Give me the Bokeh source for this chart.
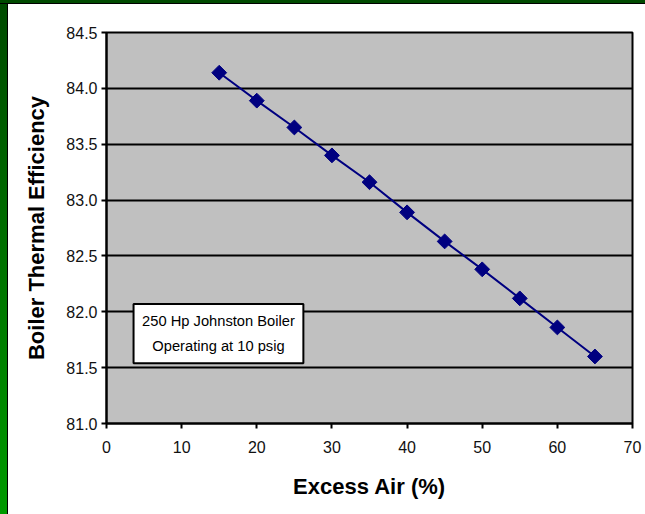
import math
from bokeh.plotting import figure
from bokeh.models import Range1d, BoxAnnotation, Label, FixedTicker, InlineStyleSheet
from bokeh.embed import file_html
from bokeh.resources import INLINE

excess_air = [15, 20, 25, 30, 35, 40, 45, 50, 55, 60, 65]
efficiency = [84.14, 83.89, 83.65, 83.40, 83.16, 82.89, 82.63, 82.38, 82.12, 81.86, 81.60]
x_ticks = [0, 10, 20, 30, 40, 50, 60, 70]
y_ticks = [81.0, 81.5, 82.0, 82.5, 83.0, 83.5, 84.0, 84.5]
note_lines = ["250 Hp Johnston Boiler", "Operating at 10 psig"]

FONT = "Liberation Sans"
W, H = 645, 514

p = figure(width=W, height=H, output_backend="svg", toolbar_location=None,
           x_range=Range1d(0, 70), y_range=Range1d(81.0, 84.5),
           frame_width=526, frame_height=391,
           min_border_left=106, min_border_right=W - 632, min_border_top=32,
           min_border_bottom=H - 32 - 391)
p.background_fill_color = "#C0C0C0"
p.border_fill_color = "white"
p.outline_line_color = "black"
p.outline_line_width = 2

p.xgrid.grid_line_color = None
p.ygrid.grid_line_color = "black"
p.ygrid.grid_line_width = 2
p.ygrid.ticker = FixedTicker(ticks=y_ticks)

p.xaxis.ticker = FixedTicker(ticks=x_ticks)
p.yaxis.ticker = FixedTicker(ticks=y_ticks)
p.xaxis.major_label_overrides = {t: str(t) for t in x_ticks}
p.yaxis.major_label_overrides = {t: f"{t:.1f}" for t in y_ticks}

for ax in (p.xaxis, p.yaxis):
    ax.axis_line_color = "black"
    ax.axis_line_width = 2
    ax.major_tick_line_color = "black"
    ax.major_tick_line_width = 2
    ax.major_tick_out = 5
    ax.major_tick_in = 0
    ax.minor_tick_line_color = None
    ax.major_label_text_font = FONT
    ax.major_label_text_font_size = "16px"
    ax.major_label_text_color = "#111111"
    ax.axis_label_text_font = FONT
    ax.axis_label_text_font_style = "bold"
    ax.axis_label_text_font_size = "22px"
    ax.axis_label_text_color = "black"

p.xaxis.axis_label = "Excess Air (%)"
p.yaxis.axis_label = "Boiler Thermal Efficiency"
p.xaxis.major_label_standoff = 12
p.yaxis.major_label_standoff = 4
p.xaxis.axis_label_standoff = 18
p.yaxis.axis_label_standoff = 14

p.line(excess_air, efficiency, line_color="#000080", line_width=2)
p.scatter(excess_air, efficiency, marker="square", angle=math.pi / 4, size=10.5,
          fill_color="#000080", line_color="#000080")

box = BoxAnnotation(left=3.6, right=26.2, top=82.07, bottom=81.54,
                    fill_color="white", fill_alpha=1.0,
                    line_color="black", line_alpha=1.0, line_width=2)
p.add_layout(box)
p.add_layout(Label(x=14.9, y=81.92, text=note_lines[0], text_align="center",
                   text_baseline="middle", text_font=FONT, text_font_size="14.7px",
                   text_color="black"))
p.add_layout(Label(x=14.9, y=81.695, text=note_lines[1], text_align="center",
                   text_baseline="middle", text_font=FONT, text_font_size="14.7px",
                   text_color="black"))

# decorative green window border on the left and top edges
border_css = """
:host { position: relative; }
:host::before {
  content: ""; position: absolute; left: 0; top: 0; width: 7px; height: 100%;
  background: linear-gradient(to bottom, #004a00, #009a00);
  border-right: 1px solid black; z-index: 10; pointer-events: none;
}
:host::after {
  content: ""; position: absolute; left: 0; top: 0; width: 100%; height: 3px;
  background: #004a00; border-bottom: 1px solid black; z-index: 11;
  pointer-events: none;
}
"""
p.stylesheets = [InlineStyleSheet(css=border_css)]

open("out.html", "w").write(file_html(p, INLINE))
